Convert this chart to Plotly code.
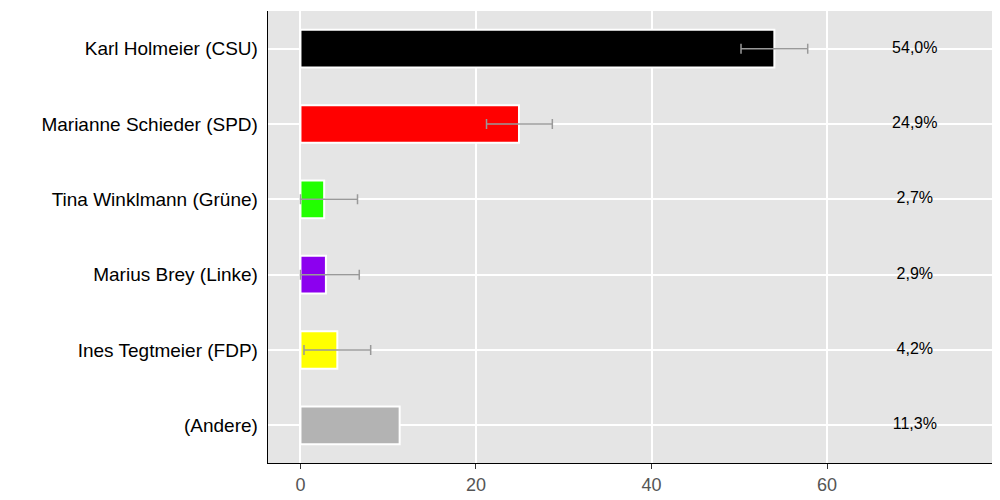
import plotly.graph_objects as go

candidates = ["Karl Holmeier (CSU)", "Marianne Schieder (SPD)", "Tina Winklmann (Grüne)",
              "Marius Brey (Linke)", "Ines Tegtmeier (FDP)", "(Andere)"]
values = [54.0, 24.9, 2.7, 2.9, 4.2, 11.3]
err_plus = [3.8, 3.8, 3.8, 3.8, 3.8]
err_minus = [3.8, 3.7, 2.7, 2.9, 3.8]
labels = ["54,0%", "24,9%", "2,7%", "2,9%", "4,2%", "11,3%"]
colors = ["#000000", "#ff0000", "#22ff00", "#8c00ef", "#ffff00", "#b3b3b3"]
label_x = 70

fig = go.Figure()
fig.add_trace(go.Bar(
    y=candidates, x=values, orientation="h", width=0.5,
    marker=dict(color=colors, line=dict(color="white", width=2)),
))
fig.add_trace(go.Scatter(
    y=candidates[:5], x=values[:5], mode="markers", marker=dict(size=0.1, opacity=0),
    error_x=dict(type="data", symmetric=False, array=err_plus, arrayminus=err_minus,
                 color="#999999", thickness=1.5, width=5),
))
fig.add_trace(go.Scatter(y=candidates, x=[label_x]*len(candidates), mode="text",
                         text=labels, textfont=dict(size=16, color="black")))
fig.update_layout(
    width=1000, height=500, showlegend=False,
    margin=dict(l=260, r=16, t=3, b=45),
    plot_bgcolor="#e5e5e5", paper_bgcolor="white",
    font=dict(family="Liberation Sans, Arial, sans-serif"),
    xaxis=dict(range=[-3.7, 78.8], tickvals=[0, 20, 40, 60], gridcolor="white", gridwidth=1.5,
               showline=True, linecolor="black", zeroline=False, ticks="outside",
               tickcolor="#333", ticklen=5, tickfont=dict(size=18, color="#555")),
    yaxis=dict(autorange="reversed", gridcolor="white", gridwidth=1.5, showline=True,
               linecolor="black", ticks="", tickfont=dict(size=19, color="black"), ticksuffix=" "),
)
fig.write_html("out.html")
